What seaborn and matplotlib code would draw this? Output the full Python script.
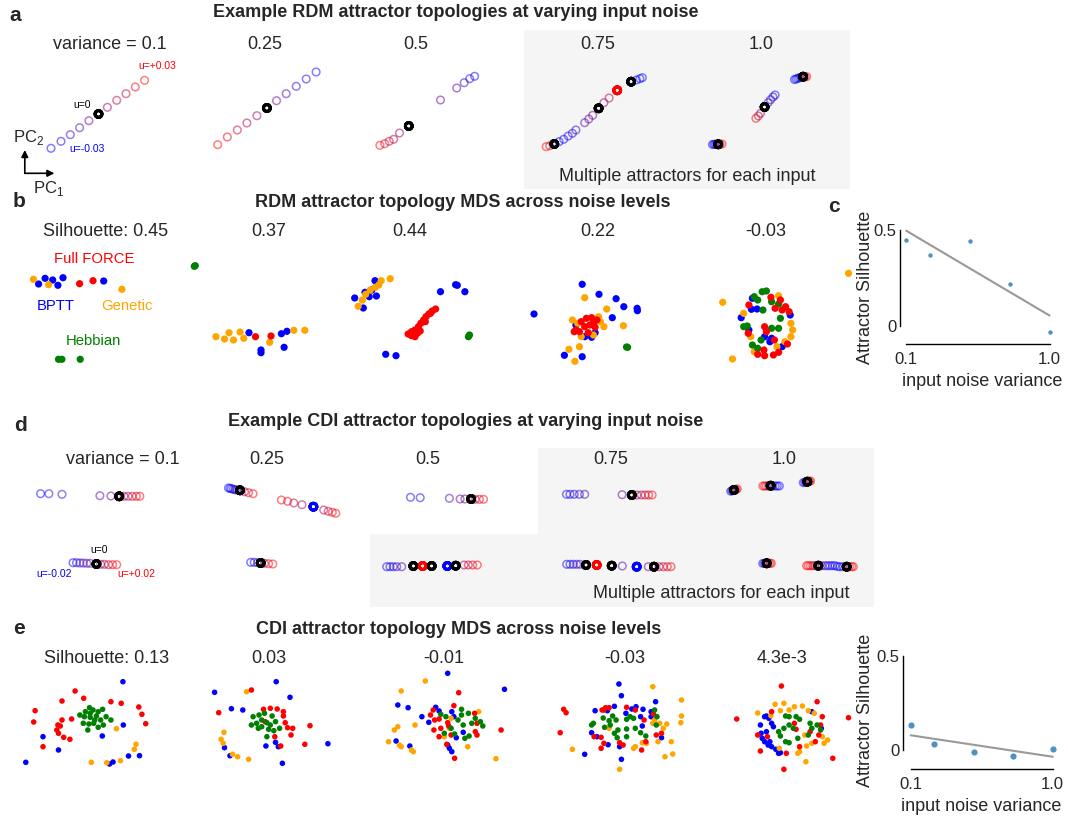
"""
Attractor topologies (RDM / CDI) and their MDS embeddings across noise levels.
"""
import numpy as np
import pandas as pd
import seaborn as sns
from matplotlib import pyplot as plt
from matplotlib.colors import LinearSegmentedColormap
from matplotlib.patches import Rectangle

FIG_W, FIG_H = 1068, 817

NOISE_VARIANCE = [0.1, 0.25, 0.5, 0.75, 1.0]
RDM_SILHOUETTE = [0.45, 0.37, 0.44, 0.22, -0.03]
CDI_SILHOUETTE = [0.13, 0.03, -0.01, -0.03, 0.0043]
CDI_SILHOUETTE_LABELS = ["0.13", "0.03", "-0.01", "-0.03", "4.3e-3"]

METHOD_COLORS = {"BPTT": "blue", "Genetic": "orange", "Hebbian": "green", "Full FORCE": "red"}

# example fixed points: (PC1, PC2, normalised input u in [-1, 1])
RDM_TOPO_01 = [(51.0, 148.3, -1.0), (61.0, 141.3, -0.8), (70.3, 134.7, -0.6), (79.6, 127.7, -0.4),
               (88.9, 120.7, -0.2), (107.4, 107.3, 0.2), (116.7, 100.3, 0.4), (126.0, 93.7, 0.6),
               (135.3, 87.0, 0.8), (144.6, 80.3, 1.0)]
RDM_TOPO_025 = [(217.7, 144.7, 1.0), (227.3, 137.0, 0.8), (237.3, 130.0, 0.6), (246.9, 123.0, 0.4),
                (256.9, 115.7, 0.2), (276.5, 100.7, -0.2), (286.2, 93.7, -0.4), (296.2, 86.3, -0.6),
                (306.2, 79.0, -0.8), (316.1, 72.0, -1.0)]
RDM_TOPO_05 = [(379.9, 145.3, 1.0), (384.7, 143.7, 0.8), (389.2, 141.3, 0.6), (393.6, 139.3, 0.4),
               (399.5, 133.0, 0.2), (440.5, 100.0, -0.2), (456.7, 88.0, -0.4), (464.2, 82.7, -0.6),
               (469.7, 78.7, -0.8), (474.6, 76.3, -1.0)]
RDM_TOPO_075 = [(546.2, 146.7, 1.0), (549.7, 145.7, 0.8), (559.1, 141.7, -1.0), (563.7, 139.3, -1.0),
                (568.2, 136.0, -0.8), (572.4, 133.3, -0.8), (575.9, 130.0, -0.6), (584.7, 122.7, -0.4),
                (588.8, 119.0, -0.2), (592.7, 115.3, -0.2), (603.9, 102.7, 0.2), (609.1, 98.0, 0.4),
                (636.4, 80.0, -1.0), (639.9, 78.7, -1.0), (642.3, 77.7, -1.0)]
RDM_TOPO_10 = [(712.5, 144.5, -1.0), (714.0, 144.3, -1.0), (715.2, 144.3, -0.8), (716.4, 144.3, -1.0),
               (720.0, 144.2, 0.6), (722.0, 144.0, 1.0), (755.9, 118.3, 1.0), (758.4, 116.0, 0.6),
               (760.5, 113.3, 0.2), (768.1, 102.7, -0.4), (770.6, 99.7, -0.6), (773.0, 97.0, -0.8),
               (775.1, 95.0, -1.0), (794.5, 79.5, -1.0), (796.1, 79.0, -1.0), (797.8, 78.3, -1.0),
               (799.6, 77.7, -1.0), (801.3, 77.2, -0.8), (805.0, 76.7, 0.8), (806.6, 76.7, 1.0)]
RDM_FIXED = [(98.5, 114.0, "black"), (266.9, 108.0, "black"), (408.8, 126.0, "black"),
             (554.3, 144.0, "black"), (598.6, 108.3, "black"), (617.2, 90.3, "red"),
             (631.1, 81.7, "black"), (718.2, 144.3, "black"), (764.6, 107.0, "black"),
             (803.1, 76.7, "black")]

CDI_TOPO_01 = [(40.6, 493.7, -1.0), (48.9, 493.7, -0.8), (62.0, 494.3, -0.6), (99.9, 495.7, -0.4),
               (110.9, 496.0, -0.2), (124.0, 496.3, 0.2), (128.1, 496.3, 0.4), (132.2, 496.3, 0.6),
               (136.4, 496.3, 0.8), (139.8, 496.3, 1.0), (73.0, 562.7, -1.0), (76.5, 562.7, -0.8),
               (79.9, 563.0, -0.6), (83.3, 563.0, -0.5), (86.8, 563.3, -0.4), (90.2, 563.3, -0.2),
               (100.6, 564.3, 0.2), (104.3, 564.3, 0.4), (108.5, 564.7, 0.6), (112.6, 564.7, 0.8),
               (116.7, 564.7, 1.0)]
CDI_TOPO_025 = [(228.5, 488.0, -1.0), (230.1, 488.3, -1.0), (231.6, 488.8, -1.0), (233.5, 489.3, -0.8),
                (235.2, 489.7, -0.7), (236.9, 490.0, -0.6), (244.5, 491.7, 0.4), (248.6, 492.7, 0.7),
                (253.1, 493.7, 1.0), (281.4, 500.0, 1.0), (287.6, 501.3, 0.8), (293.8, 503.0, 0.6),
                (302.0, 504.7, 0.4), (323.7, 510.0, 0.4), (328.2, 511.3, 0.6), (332.3, 512.3, 0.8),
                (335.8, 513.3, 1.0), (250.7, 562.3, -1.0), (254.2, 562.3, -0.8), (257.6, 562.7, -0.5),
                (264.5, 563.3, 0.4), (268.6, 563.7, 0.7), (272.8, 564.0, 1.0)]
CDI_TOPO_05 = [(410.5, 497.3, -1.0), (420.2, 497.7, -0.9), (449.4, 498.3, -0.4), (460.1, 499.0, -0.2),
               (464.9, 499.0, -0.1), (475.2, 499.3, 0.4), (479.4, 499.3, 0.7), (483.5, 499.3, 1.0),
               (386.7, 566.7, -1.0), (390.0, 566.7, -0.9), (393.3, 566.7, -0.8), (396.7, 566.7, -0.7),
               (401.7, 566.7, -0.4), (464.0, 565.0, 0.4), (468.3, 565.0, 0.6), (472.7, 565.0, 0.8),
               (477.3, 565.0, 1.0)]
CDI_TOPO_075 = [(566.5, 494.3, -1.0), (570.0, 494.3, -0.9), (574.2, 494.3, -0.8), (579.4, 494.3, -0.7),
                (584.7, 494.3, -0.5), (622.1, 494.7, -0.3), (637.1, 495.0, 0.2), (641.3, 495.0, 0.4),
                (645.1, 495.0, 0.6), (648.6, 495.0, 0.8), (652.1, 495.0, 1.0), (566.7, 564.3, -1.0),
                (570.0, 564.3, -0.9), (573.3, 564.3, -0.8), (576.7, 564.3, -0.7), (580.0, 564.3, -0.6),
                (622.3, 566.0, -0.3), (648.3, 566.7, -0.1), (659.0, 566.7, 0.4), (663.3, 566.7, 0.6),
                (667.3, 566.7, 0.8), (671.0, 566.7, 1.0)]
CDI_TOPO_10 = [(730.8, 491.2, -1.0), (732.1, 490.7, -1.0), (733.2, 490.4, -0.6), (734.8, 489.7, 0.5),
               (736.0, 489.3, 1.0), (737.2, 489.0, 1.0), (762.9, 486.0, 1.0), (764.6, 486.0, 0.9),
               (766.4, 486.0, 0.8), (768.5, 485.8, 0.5), (772.8, 485.9, -0.5), (775.1, 486.0, -0.8),
               (777.2, 486.0, -0.9), (779.3, 486.0, -1.0), (803.3, 482.6, -1.0), (804.8, 482.3, -1.0),
               (806.0, 482.0, -0.6), (808.3, 481.5, 0.5), (809.4, 481.3, 1.0), (810.5, 481.0, 1.0),
               (762.8, 563.4, -1.0), (764.3, 563.3, -1.0), (765.5, 563.3, -0.6), (768.2, 563.3, 0.6),
               (770.0, 563.3, 1.0), (771.3, 563.3, 1.0), (806.6, 565.7, 1.0), (808.3, 565.7, 1.0),
               (810.5, 565.7, 0.9), (812.7, 565.7, 0.8), (815.0, 565.7, 0.6), (821.7, 565.7, -0.3),
               (825.0, 565.7, -0.6), (827.5, 565.7, -0.7), (830.0, 565.7, -0.8), (832.5, 565.7, -0.9),
               (835.0, 565.7, -1.0), (837.5, 566.5, -1.0), (840.0, 566.7, -1.0), (843.0, 566.7, -0.8),
               (849.5, 566.7, 0.8), (851.7, 566.7, 1.0), (853.3, 566.7, 1.0)]
CDI_FIXED = [(119.2, 496.3, "black"), (96.4, 564.0, "black"), (240.0, 490.3, "black"),
             (313.4, 506.7, "blue"), (260.7, 563.0, "black"), (471.1, 499.0, "black"),
             (413.3, 566.0, "black"), (422.7, 566.0, "red"), (431.7, 566.0, "black"),
             (447.3, 566.0, "blue"), (455.7, 565.7, "black"), (631.8, 495.0, "black"),
             (586.0, 565.0, "black"), (596.7, 565.0, "red"), (611.7, 565.7, "black"),
             (636.7, 566.7, "blue"), (654.0, 566.7, "black"), (733.9, 490.0, "black"),
             (770.6, 485.7, "black"), (807.3, 481.7, "black"), (766.7, 563.3, "black"),
             (818.3, 565.7, "black"), (846.7, 566.7, "black")]

# MDS embeddings of attractor topologies, one dict per noise level
RDM_MDS_01 = {
    "BPTT": [(38.6, 284.0), (45.1, 278.3), (52.7, 280.0), (57.9, 285.3), (63.0, 277.7), (103.7, 281.0)],
    "Genetic": [(33.4, 279.3), (48.6, 284.7), (121.9, 289.3)],
    "Hebbian": [(58.5, 359.3), (61.9, 359.3), (80.2, 359.3)],
    "Full FORCE": [(79.6, 283.7), (93.0, 280.7)],
}
RDM_MDS_025 = {
    "BPTT": [(249.0, 332.7), (261.0, 350.0), (261.0, 352.7), (281.4, 333.7), (286.9, 331.3),
             (284.1, 347.3)],
    "Genetic": [(215.9, 336.7), (224.5, 339.0), (229.0, 332.7), (233.5, 340.0), (240.0, 332.0),
                (243.8, 338.3), (269.7, 342.3), (293.8, 330.3), (304.8, 330.3)],
    "Hebbian": [(195.3, 265.7), (194.3, 266.3)],
    "Full FORCE": [(255.5, 336.7), (271.0, 336.0)],
}
RDM_MDS_05 = {
    "BPTT": [(375.0, 280.7), (365.0, 292.3), (369.2, 296.7), (376.4, 296.0), (354.7, 298.0),
             (363.3, 308.0), (371.9, 290.0), (385.7, 354.3), (396.0, 355.7), (440.5, 291.7),
             (455.6, 284.7), (457.3, 285.3), (464.9, 291.7)],
    "Genetic": [(381.2, 280.7), (390.2, 278.7), (378.8, 285.0), (375.4, 287.3), (370.2, 290.0),
                (365.7, 294.3), (362.3, 300.0), (358.2, 306.3)],
    "Hebbian": [(468.4, 336.7), (469.5, 335.0)],
    "Full FORCE": [(408.1, 334.0), (411.5, 335.7), (415.0, 336.7), (417.4, 333.3), (415.0, 330.0),
                   (418.4, 326.7), (420.8, 323.3), (423.6, 320.0), (426.0, 316.7), (428.8, 314.0),
                   (432.2, 311.0), (435.6, 309.0), (420.2, 331.0), (425.3, 321.7), (430.5, 313.3),
                   (411.5, 331.7)],
}
RDM_MDS_075 = {
    "BPTT": [(534.0, 314.0), (582.2, 284.3), (599.0, 294.3), (616.1, 298.7), (623.8, 306.7),
             (637.1, 308.3), (637.4, 310.7), (612.3, 317.7), (564.4, 355.3), (582.2, 356.7),
             (575.9, 325.0), (584.7, 336.7), (591.6, 337.3), (595.1, 332.7)],
    "Genetic": [(584.7, 297.7), (606.7, 309.0), (623.4, 325.7), (568.9, 349.3), (579.4, 346.7),
                (574.9, 361.3), (577.7, 323.3), (600.4, 321.7), (603.9, 326.7), (581.2, 336.7),
                (593.4, 335.0), (572.4, 320.0), (598.6, 316.7)],
    "Hebbian": [(627.6, 347.3), (626.5, 347.0)],
    "Full FORCE": [(575.9, 330.0), (581.2, 321.7), (586.4, 318.3), (591.6, 317.7), (596.9, 320.0),
                   (584.7, 326.7), (589.9, 325.0), (595.1, 327.3), (579.4, 331.7), (588.2, 332.7),
                   (574.2, 331.7), (593.4, 323.3)],
}
RDM_MDS_10 = {
    "BPTT": [(752.4, 298.3), (790.2, 315.0), (782.1, 346.7), (748.9, 330.0), (741.2, 317.7),
             (751.4, 309.3), (757.0, 309.0), (764.6, 336.7), (769.9, 341.7), (771.6, 338.3)],
    "Genetic": [(778.6, 295.7), (790.9, 323.3), (792.6, 330.0), (790.9, 336.7), (754.2, 351.7),
                (750.7, 336.7), (743.7, 313.3), (776.9, 346.7), (784.9, 341.7), (722.7, 302.3),
                (732.5, 359.0), (848.5, 273.3)],
    "Hebbian": [(762.2, 291.7), (766.4, 291.0), (754.2, 296.7), (757.7, 300.0), (778.6, 304.0),
                (752.4, 345.0), (743.7, 326.7), (747.2, 326.0), (762.9, 310.0), (771.6, 328.3),
                (778.6, 328.3), (761.1, 340.0), (780.4, 318.3), (771.6, 301.7), (757.7, 348.3)],
    "Full FORCE": [(770.9, 297.3), (780.4, 300.0), (785.6, 306.7), (789.1, 311.7), (787.4, 344.0),
                   (778.6, 352.3), (773.4, 355.0), (764.6, 355.7), (757.7, 354.3), (748.2, 333.3),
                   (748.9, 305.0), (764.6, 326.7), (766.4, 331.7), (774.4, 340.0), (775.1, 308.3),
                   (782.1, 310.0), (763.9, 350.0)],
}

CDI_MDS_01 = {
    "BPTT": [(122.9, 681.7), (25.8, 762.3), (43.0, 736.7), (58.5, 750.0), (123.3, 725.0),
             (102.3, 736.0), (128.5, 756.0), (139.5, 755.7), (109.5, 764.0), (113.0, 762.0)],
    "Genetic": [(116.4, 728.7), (136.0, 744.3), (134.3, 749.3), (91.3, 762.3), (106.8, 762.7),
                (120.5, 760.7)],
    "Full FORCE": [(75.1, 691.0), (62.0, 701.0), (83.7, 698.3), (110.9, 701.7), (121.2, 703.3),
                   (35.1, 710.7), (33.7, 722.0), (71.6, 719.0), (62.0, 720.0), (57.9, 725.0),
                   (56.8, 730.0), (58.5, 733.3), (63.7, 737.3), (69.9, 739.3), (43.0, 746.7),
                   (138.8, 707.0), (141.9, 714.3), (145.7, 723.7), (60.3, 726.0)],
    "Hebbian": [(79.9, 715.0), (85.4, 711.7), (89.5, 707.7), (93.0, 710.0), (98.2, 711.7),
                (102.6, 709.3), (90.2, 717.3), (96.4, 716.0), (100.6, 720.0), (106.1, 716.7),
                (110.9, 720.0), (83.3, 723.3), (88.9, 724.0), (93.7, 723.3), (98.2, 727.3),
                (103.3, 725.0), (87.8, 730.0), (84.4, 716.7), (90.2, 713.3), (94.7, 720.0)],
}
CDI_MDS_025 = {
    "BPTT": [(214.6, 692.3), (276.2, 681.7), (290.0, 697.3), (231.4, 708.7), (242.8, 710.0),
             (224.5, 747.7), (230.0, 755.7), (265.9, 746.0), (275.5, 742.3), (278.3, 746.7),
             (282.4, 763.3), (327.9, 743.7)],
    "Genetic": [(246.6, 691.7), (223.9, 732.3), (221.1, 739.3), (223.2, 743.3), (232.5, 754.3),
                (237.6, 756.7), (248.6, 759.3)],
    "Full FORCE": [(251.4, 690.0), (218.7, 712.7), (263.5, 709.3), (270.3, 708.3), (277.2, 709.0),
                   (283.4, 711.7), (283.4, 716.0), (285.2, 722.7), (292.7, 728.3), (291.0, 735.0),
                   (287.6, 727.7), (310.0, 725.7), (304.8, 744.3), (280.7, 746.0), (274.8, 736.7),
                   (265.2, 721.7)],
    "Hebbian": [(253.1, 716.7), (259.0, 715.0), (264.5, 713.3), (272.1, 716.0), (256.6, 723.3),
                (261.7, 720.0), (266.9, 722.7), (275.5, 721.7), (279.6, 728.3), (261.7, 726.7),
                (268.6, 729.3), (273.8, 730.7), (266.9, 736.7), (251.4, 725.0), (258.3, 728.3),
                (270.3, 725.0)],
}
CDI_MDS_05 = {
    "BPTT": [(447.7, 673.3), (504.5, 689.3), (397.8, 705.0), (408.1, 707.7), (421.9, 716.7),
             (428.8, 722.3), (435.7, 707.3), (439.1, 711.0), (451.8, 711.7), (453.9, 716.7),
             (463.2, 732.3), (456.3, 737.7), (396.1, 741.0), (409.8, 746.0), (447.7, 745.0),
             (449.4, 748.3), (451.8, 751.7)],
    "Genetic": [(425.3, 681.0), (401.2, 691.0), (415.0, 725.0), (397.8, 726.7), (394.3, 730.0),
                (388.5, 741.7), (399.5, 745.0), (401.2, 746.7), (411.5, 750.0), (413.3, 751.7),
                (449.4, 728.3), (451.1, 718.3), (478.7, 711.7), (467.7, 746.7), (495.9, 758.7),
                (444.3, 736.7)],
    "Full FORCE": [(458.7, 692.7), (453.9, 705.7), (433.2, 710.0), (430.5, 715.0), (434.6, 720.0),
                   (439.1, 719.0), (447.7, 722.7), (440.8, 728.3), (448.7, 726.0), (439.1, 736.7),
                   (446.7, 744.3), (454.6, 758.3), (474.6, 713.3), (477.0, 723.3), (475.3, 731.7),
                   (477.0, 735.0), (501.1, 730.0), (451.1, 735.0), (433.9, 730.0)],
    "Hebbian": [(440.8, 714.3), (445.9, 716.7), (461.5, 709.3), (461.5, 715.0), (468.4, 713.3),
                (475.3, 718.3), (480.4, 721.7), (482.8, 726.0), (471.8, 723.3), (463.2, 725.0),
                (458.0, 720.0), (451.1, 728.3), (464.9, 738.3), (469.1, 736.0), (454.6, 734.0),
                (444.3, 733.3)],
}
CDI_MDS_075 = {
    "BPTT": [(618.9, 684.0), (621.4, 695.7), (614.4, 706.3), (595.1, 710.7), (607.4, 710.7),
             (625.9, 713.3), (631.8, 709.0), (636.0, 706.7), (643.0, 709.3), (651.1, 711.7),
             (655.6, 701.7), (640.6, 716.7), (642.3, 726.0), (591.6, 732.7), (596.9, 736.7),
             (608.1, 744.7), (619.6, 746.7), (621.4, 759.3), (584.7, 754.3), (661.5, 737.7),
             (651.1, 716.7)],
    "Genetic": [(652.8, 686.7), (681.5, 700.0), (681.5, 716.0), (680.8, 722.7), (572.4, 749.3),
                (619.6, 769.3), (635.3, 746.7), (642.3, 742.7), (646.5, 743.3), (654.6, 720.0),
                (659.8, 723.3), (663.3, 728.3), (666.8, 724.0), (671.3, 741.7), (665.0, 756.7),
                (672.7, 754.0), (609.1, 728.3), (633.6, 748.3), (652.8, 723.3), (658.0, 741.7)],
    "Full FORCE": [(563.7, 709.3), (566.1, 712.7), (560.2, 732.7), (602.1, 710.0), (605.6, 707.7),
                   (609.1, 707.7), (603.9, 710.0), (626.6, 707.3), (635.3, 710.0), (644.1, 720.0),
                   (594.1, 736.7), (601.1, 737.3), (603.9, 743.3), (601.1, 748.3), (619.6, 742.7),
                   (623.1, 745.0), (641.6, 750.0), (656.3, 735.0), (661.5, 733.3), (645.8, 741.7),
                   (653.5, 714.0)],
    "Hebbian": [(593.4, 723.3), (591.6, 725.0), (603.2, 718.0), (609.1, 720.7), (612.6, 716.0),
                (604.6, 727.3), (610.2, 725.0), (616.1, 720.0), (617.9, 730.0), (617.2, 737.7),
                (626.6, 719.3), (630.1, 716.7), (633.6, 718.3), (635.3, 728.3), (626.6, 729.0),
                (640.6, 732.7), (645.8, 736.0), (657.0, 716.7), (656.3, 725.0), (626.6, 736.7),
                (654.6, 710.0), (614.4, 733.3)],
}
CDI_MDS_10 = {
    "BPTT": [(760.4, 725.0), (764.6, 716.7), (766.4, 716.0), (768.8, 718.3), (771.6, 723.3),
             (762.2, 738.3), (764.6, 741.7), (768.1, 745.0), (771.6, 746.7), (775.8, 749.3),
             (780.4, 752.7), (766.4, 731.7), (773.4, 726.7), (761.1, 733.3), (811.8, 711.7),
             (821.3, 728.3), (778.6, 753.3), (769.9, 741.7)],
    "Genetic": [(757.7, 713.0), (775.1, 704.3), (783.9, 703.3), (794.4, 706.7), (802.4, 706.0),
                (808.3, 710.7), (770.9, 715.7), (780.4, 710.7), (789.1, 710.0), (804.8, 735.0),
                (822.3, 736.7), (827.6, 740.0), (824.1, 743.3), (811.8, 743.3), (806.6, 746.0),
                (799.6, 751.7), (797.8, 753.3), (805.9, 761.7), (779.3, 748.3), (814.3, 713.3)],
    "Full FORCE": [(781.4, 686.0), (736.7, 719.0), (817.1, 701.7), (848.5, 717.7), (832.8, 758.3),
                   (783.9, 769.3), (760.4, 751.0), (757.7, 735.0), (767.4, 736.7), (786.3, 753.3),
                   (796.1, 729.3), (799.6, 746.7), (794.4, 723.3), (822.3, 716.7), (820.6, 725.0),
                   (815.3, 741.7), (810.1, 731.7), (818.8, 735.0), (771.6, 711.7)],
    "Hebbian": [(778.6, 731.7), (783.9, 728.3), (785.6, 716.0), (789.1, 716.7), (796.1, 716.7),
                (799.6, 719.3), (789.1, 725.0), (793.3, 728.3), (780.4, 736.0), (785.6, 741.7),
                (789.1, 742.7), (797.8, 738.3), (810.1, 723.3), (811.8, 728.3), (808.3, 735.0),
                (820.6, 730.0), (817.1, 725.0)],
}

U_CMAP = LinearSegmentedColormap.from_list("input_u", ["blue", "red"])


def plot_topology(ax, points, fixed):
    """Hollow circles coloured by input u, bold rings for the attractors."""
    x_vals, y_vals, u_vals = zip(*points)
    colors = U_CMAP((np.asarray(u_vals) + 1) / 2)
    colors[:, 3] = 0.5
    ax.scatter(x_vals, y_vals, s=30, facecolors="none", edgecolors=colors,
               linewidths=1.1, zorder=3)
    fx, fy, fc = zip(*fixed)
    ax.scatter(fx, fy, s=24, facecolors="none", edgecolors=list(fc),
               linewidths=2.1, zorder=4)


def plot_mds(ax, groups, size):
    """Scatter the MDS embedding of one noise level, coloured by method."""
    frame = pd.DataFrame(
        [(method, x, y) for method, pts in groups.items() for x, y in pts],
        columns=["method", "x", "y"],
    )
    sns.scatterplot(data=frame, x="x", y="y", hue="method", palette=METHOD_COLORS,
                    s=size, linewidth=0, legend=False, ax=ax, zorder=3)


def plot_silhouette(fig, box, limits, values, label_coords):
    """Silhouette score against noise variance with a linear fit."""
    left, top, right, bottom = box
    ax = fig.add_axes([left / FIG_W, 1 - bottom / FIG_H,
                       (right - left) / FIG_W, (bottom - top) / FIG_H])
    sns.regplot(x=np.array(NOISE_VARIANCE), y=np.array(values), ci=None, ax=ax,
                color="tab:blue", scatter_kws={"s": limits[2], "linewidths": 0, "zorder": 3},
                line_kws={"color": "#999999", "linewidth": 1.5})
    ax.set_xlim(limits[0])
    ax.set_ylim(limits[1])
    ax.set_xticks([0.1, 1.0], ["0.1", "1.0"])
    ax.set_yticks([0, 0.5], ["0", "0.5"])
    for side in ("top", "right"):
        ax.spines[side].set_visible(False)
    ax.spines["left"].set_bounds(0, 0.5)
    ax.spines["bottom"].set_bounds(0.1, 1.0)
    for side in ("left", "bottom"):
        ax.spines[side].set_color("black")
        ax.spines[side].set_linewidth(1.0)
    ax.tick_params(axis="x", length=0, labelsize=12, pad=5.5)
    ax.tick_params(axis="y", length=0, labelsize=12, pad=2.5)
    ax.set_xlabel("input noise variance", fontsize=13)
    ax.set_ylabel("Attractor Silhouette", fontsize=13)
    ax.xaxis.set_label_coords(*label_coords[0])
    ax.yaxis.set_label_coords(*label_coords[1])
    ax.patch.set_alpha(0)
    return ax


sns.set_style("white")
plt.rcParams["font.family"] = ["Liberation Sans", "DejaVu Sans"]
plt.rcParams["mathtext.fontset"] = "custom"
plt.rcParams["mathtext.rm"] = "Liberation Sans"

fig = plt.figure(figsize=(FIG_W / 100, FIG_H / 100), dpi=100)
canvas = fig.add_axes([0, 0, 1, 1])
canvas.set_xlim(0, FIG_W)
canvas.set_ylim(FIG_H, 0)
canvas.axis("off")

# shaded regions: more than one attractor per input
for x0, y0, w, h in [(523.5, 30, 326, 159.3), (537.5, 448.3, 336.2, 159), (370, 534, 167.5, 73.3)]:
    canvas.add_patch(Rectangle((x0, y0), w, h, facecolor="#f5f5f5", edgecolor="none", zorder=0))

# panel titles and letters
for letter, (lx, ly), title, (tx, ty) in [
    ("a", (14.8, 15), "Example RDM attractor topologies at varying input noise", (456, 12.7)),
    ("b", (19.4, 201.7), "RDM attractor topology MDS across noise levels", (463, 202.7)),
    ("d", (20.3, 425), "Example CDI attractor topologies at varying input noise", (466, 421.7)),
    ("e", (19.3, 628.3), "CDI attractor topology MDS across noise levels", (458.5, 630)),
]:
    canvas.text(lx, ly, letter, fontsize=15, fontweight="bold", ha="center", va="center")
    canvas.text(tx, ty, title, fontsize=13, fontweight="bold", ha="center", va="center")
canvas.text(833.7, 206, "c", fontsize=15, fontweight="bold", ha="center", va="center")

# column headers
variance_labels = ["variance = " + str(NOISE_VARIANCE[0])] + [str(v) for v in NOISE_VARIANCE[1:]]
rdm_labels = [f"Silhouette: {RDM_SILHOUETTE[0]:.2f}"] + [f"{v:.2f}" for v in RDM_SILHOUETTE[1:]]
cdi_labels = ["Silhouette: " + CDI_SILHOUETTE_LABELS[0]] + CDI_SILHOUETTE_LABELS[1:]
header_rows = [
    (variance_labels, [110.2, 264.3, 415.3, 597.3, 761.2], 44.6),
    (rdm_labels, [105.4, 268.3, 410.2, 597.6, 765.9], 231.7),
    (variance_labels, [123, 266.9, 427.6, 610.3, 783.9], 459.6),
    (cdi_labels, [106.2, 269, 443.9, 624.5, 782.1], 658.3),
]
for labels, xs, y in header_rows:
    for label, x in zip(labels, xs):
        canvas.text(x, y, label, fontsize=13, ha="center", va="center")

# a / d: example topologies
for pts in [RDM_TOPO_01, RDM_TOPO_025, RDM_TOPO_05, RDM_TOPO_075, RDM_TOPO_10]:
    plot_topology(canvas, pts, RDM_FIXED)
for pts in [CDI_TOPO_01, CDI_TOPO_025, CDI_TOPO_05, CDI_TOPO_075, CDI_TOPO_10]:
    plot_topology(canvas, pts, CDI_FIXED)

canvas.text(157.2, 66, "u=+0.03", color="red", fontsize=7.5, ha="center", va="center")
canvas.text(82.1, 104.7, "u=0", color="black", fontsize=7.5, ha="center", va="center")
canvas.text(86.6, 148.7, "u=-0.03", color="blue", fontsize=7.5, ha="center", va="center")
canvas.text(98.8, 549.7, "u=0", color="black", fontsize=7.5, ha="center", va="center")
canvas.text(54.2, 574, "u=-0.02", color="blue", fontsize=7.5, ha="center", va="center")
canvas.text(136, 574.3, "u=+0.02", color="red", fontsize=7.5, ha="center", va="center")
canvas.text(686.9, 176.7, "Multiple attractors for each input", fontsize=13, ha="center", va="center")
canvas.text(721.7, 594, "Multiple attractors for each input", fontsize=13, ha="center", va="center")

# PC axes glyph
arrow = dict(arrowstyle="-|>", color="black", lw=1.2, shrinkA=0, shrinkB=0, mutation_scale=10)
canvas.annotate("", xy=(24.8, 150), xytext=(24.8, 173.3), arrowprops=arrow)
canvas.annotate("", xy=(54.4, 173.3), xytext=(24.8, 173.3), arrowprops=arrow)
canvas.text(28.4, 137.5, "PC$_2$", fontsize=12, ha="center", va="center")
canvas.text(49, 188, "PC$_1$", fontsize=12, ha="center", va="center")

# b / e: MDS embeddings
for groups in [RDM_MDS_01, RDM_MDS_025, RDM_MDS_05, RDM_MDS_075, RDM_MDS_10]:
    plot_mds(canvas, groups, 27)
for groups in [CDI_MDS_01, CDI_MDS_025, CDI_MDS_05, CDI_MDS_075, CDI_MDS_10]:
    plot_mds(canvas, groups, 16)

for method, (x, y) in zip(["Full FORCE", "BPTT", "Genetic", "Hebbian"],
                          [(93.9, 259), (56.1, 305.7), (127.4, 305.7), (93.7, 341)]):
    canvas.text(x, y, method, color=METHOD_COLORS[method], fontsize=10.7, ha="center", va="center")

# c / e: silhouette against noise
plot_silhouette(fig, (899.9, 224.2, 1055.9, 344.3), ((0.0604, 1.04), (-0.0953, 0.53), 10),
                RDM_SILHOUETTE, ((0.526, -0.239), (-0.166, 0.473)))
plot_silhouette(fig, (903.3, 650, 1059, 769), ((0.053, 1.04), (-0.1007, 0.53), 20),
                CDI_SILHOUETTE, ((0.503, -0.24), (-0.188, 0.496)))

fig.savefig("out.png", dpi=100)
